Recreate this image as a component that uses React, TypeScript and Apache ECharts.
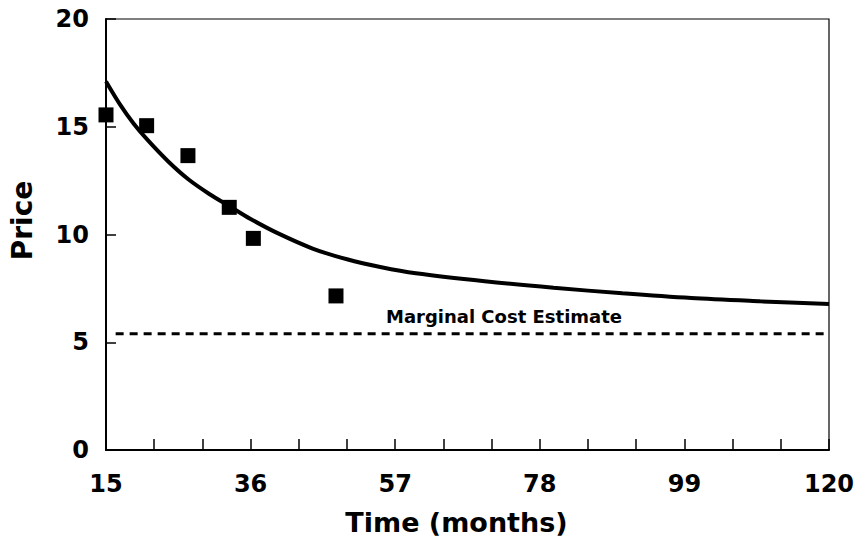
import React, { useEffect, useRef } from "react";
import * as echarts from "echarts";

// Fitted price curve (months, price)
const curveMonths = [15, 17, 19, 21, 24, 27, 30, 33, 36, 40, 45, 50, 55, 60, 70, 80, 90, 100, 110, 120];
const curvePrices = [17.1, 16.05, 15.15, 14.4, 13.4, 12.55, 11.88, 11.3, 10.72, 10.05, 9.35, 8.85, 8.48, 8.2, 7.83, 7.53, 7.27, 7.05, 6.9, 6.77];

// Observed prices
const obsMonths = [15, 20.9, 26.9, 32.9, 36.4, 48.4];
const obsPrices = [15.55, 15.05, 13.66, 11.26, 9.82, 7.15];

// Marginal cost estimate
const mcMonths = [16.4, 120];
const mcValue = 5.4;
const mcLabel = "Marginal Cost Estimate";
const mcLabelPos = [72.8, 6.2];

const xTickLabels = [15, 36, 57, 78, 99, 120];
const yTickLabels = [0, 5, 10, 15, 20];

const FONT = "DejaVu Sans";

export default function App() {
  const ref = useRef<HTMLDivElement>(null);
  useEffect(() => {
    if (!ref.current) return;
    const chart = echarts.init(ref.current, null, { renderer: "svg" });
    chart.setOption({
      animation: false,
      backgroundColor: "#fff",
      grid: {
        left: 105,
        right: 30,
        top: 19,
        bottom: 98,
        show: true,
        borderColor: "#000",
        borderWidth: 1.2,
      },
      xAxis: {
        type: "value",
        min: 15,
        max: 120,
        interval: 7,
        name: "Time (months)",
        nameLocation: "middle",
        nameGap: 59,
        nameTextStyle: { fontFamily: FONT, fontWeight: "bold", fontSize: 27, color: "#000", padding: [0, 22, 0, 0] },
        axisLine: { show: true, onZero: false, lineStyle: { color: "#000", width: 2 } },
        axisTick: { show: true, inside: true, length: 11, lineStyle: { color: "#000", width: 1.5 } },
        axisLabel: {
          fontFamily: FONT,
          fontWeight: "bold",
          fontSize: 24,
          color: "#000",
          margin: 22,
          formatter: (v: number) => (xTickLabels.includes(Math.round(v)) ? String(Math.round(v)) : ""),
        },
        splitLine: { show: false },
      },
      yAxis: {
        type: "value",
        min: 0,
        max: 20,
        interval: 5,
        name: "Price",
        nameLocation: "middle",
        nameGap: 70,
        nameTextStyle: { fontFamily: FONT, fontWeight: "bold", fontSize: 28, color: "#000", padding: [0, 0, 0, 28] },
        axisLine: { show: true, lineStyle: { color: "#000", width: 2 } },
        axisTick: { show: true, inside: true, length: 10, lineStyle: { color: "#000", width: 1.5 } },
        axisLabel: {
          fontFamily: FONT,
          fontWeight: "bold",
          fontSize: 24,
          color: "#000",
          margin: 17,
          formatter: (v: number) => (yTickLabels.includes(v) ? String(v) : ""),
        },
        splitLine: { show: false },
      },
      series: [
        {
          type: "line",
          data: curveMonths.map((m, i) => [m, curvePrices[i]]),
          smooth: 0.3,
          showSymbol: false,
          lineStyle: { color: "#000", width: 4 },
          z: 3,
        },
        {
          type: "line",
          data: mcMonths.map((m) => [m, mcValue]),
          showSymbol: false,
          lineStyle: { color: "#000", width: 3, type: [8, 6] },
          z: 2,
        },
        {
          type: "scatter",
          data: obsMonths.map((m, i) => [m, obsPrices[i]]),
          symbol: "rect",
          symbolSize: 15,
          itemStyle: { color: "#000", opacity: 1 },
          clip: false,
          z: 4,
        },
        {
          type: "scatter",
          data: [mcLabelPos],
          symbolSize: 0,
          itemStyle: { opacity: 1 },
          label: {
            show: true,
            position: "inside",
            formatter: mcLabel,
            fontFamily: FONT,
            fontWeight: "bold",
            fontSize: 18,
            color: "#000",
            opacity: 1,
          },
          z: 5,
        },
      ],
    });
    return () => chart.dispose();
  }, []);
  return <div ref={ref} style={{ position: "absolute", left: 0, top: 0, width: 859, height: 548 }} />;
}
